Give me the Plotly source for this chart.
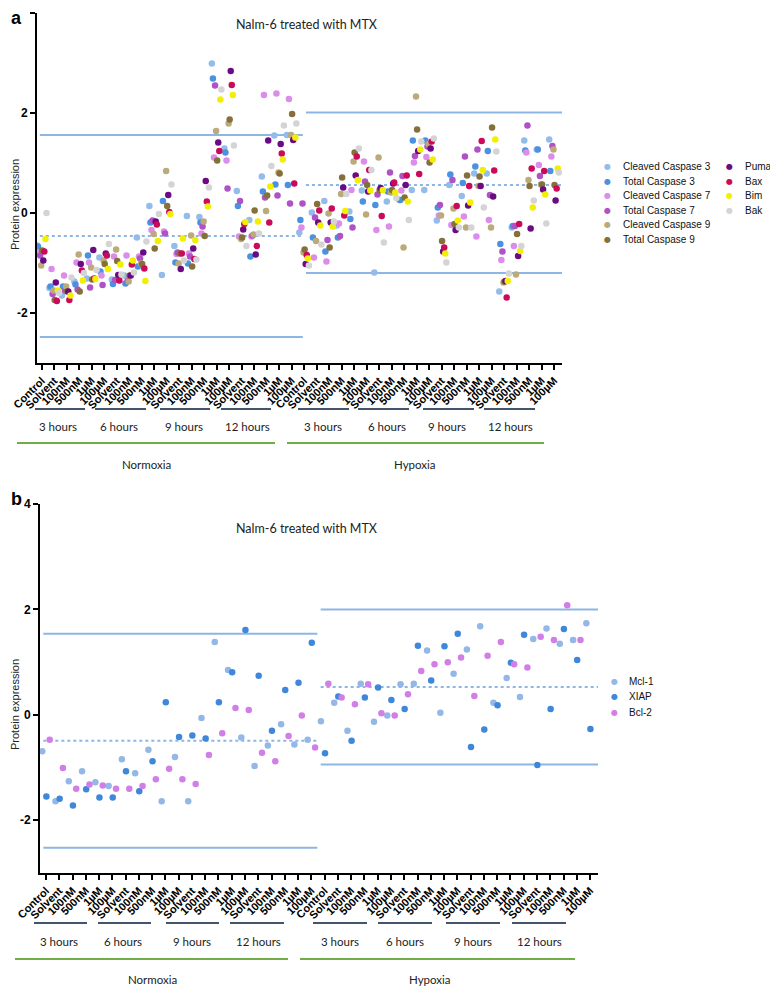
import plotly.graph_objects as go

W, H = 778, 988
OFF = 8  # page body margin offset of the rendered figure
FW, FH = W - OFF, H - OFF

# ---------------- category / tick labels ----------------
conditions = ["Normoxia", "Hypoxia"]
hour_labels = ["3 hours", "6 hours", "9 hours", "12 hours"]
doses = ["Solvent", "100nM", "500nM", "1µM", "100µM"]
tick_labels = []
for _c in conditions:
    tick_labels += ["Control"] + doses * 4

# ---------------- panel a data ----------------
names_a = ["Cleaved Caspase 3", "Total Caspase 3", "Cleaved Caspase 7", "Total Caspase 7",
           "Cleaved Caspase 9", "Total Caspase 9", "Puma", "Bax", "Bim", "Bak"]
colors_a = ["#93BCEB", "#4A92E0", "#DC8CEB", "#AE52C6", "#BBAA7A",
            "#86703A", "#6B0A82", "#CC0A5A", "#F2F000", "#D4D4D4"]

cleaved_casp3 = [-0.65, -1.50, -1.65, -1.37, -1.31, -0.89, -1.33, -1.25, -0.49, 0.14, -1.24, -0.66, -0.06, -0.08, 2.99, 1.29, 0.44, -0.14, 0.73, 1.55, 1.56,
                 -0.39, 0.01, 0.24, -0.25, 0.03, 0.45, -1.19, 0.23, 0.26, 0.46, 0.46, -0.15, 0.56, 0.34, 0.79, 0.79, -1.57, -0.29, 1.45, 1.27, 1.47]
total_casp3 = [-0.67, -1.47, -1.47, -1.43, -0.85, -1.17, -1.42, -1.41, -1.07, -0.19, 0.24, -0.99, -1.01, -0.19, 2.69, 1.21, 0.14, -0.87, 0.43, 0.57, 0.56,
               -0.14, -0.49, -0.77, -0.49, -0.12, 0.23, 0.16, 0.43, 0.26, 1.45, 1.45, 0.11, 0.77, 0.60, 0.93, 1.24, -0.62, -0.26, 1.25, 1.27, 0.84]
cleaved_casp7 = [-0.80, -1.12, -1.25, -0.99, -0.99, -1.25, -0.87, -0.85, -0.87, -0.34, -0.37, -0.82, -0.81, -0.41, 1.11, 1.05, -0.47, -0.47, 2.36, 2.39, 2.28,
                 -0.29, -0.89, -0.97, -0.21, 0.46, 1.03, -0.34, -0.27, 0.45, 1.01, 1.12, -0.05, -0.24, -0.07, -0.47, -0.14, -0.94, -0.66, 1.21, 0.96, 1.13]
total_casp7 = [-0.85, -1.62, -1.55, -1.53, -1.49, -1.44, -1.34, -1.36, -0.91, -0.15, -0.41, -0.79, -0.87, -0.27, 2.55, 0.49, 0.24, -0.45, 0.31, 0.35, 0.19,
               0.19, -0.09, -0.54, -0.46, -0.29, 0.63, 0.37, 0.81, 0.74, 1.14, 1.33, 0.16, 0.66, 1.13, 1.27, 0.36, -0.77, -0.26, 1.75, 0.74, 1.34]
cleaved_casp9 = [-1.05, -1.55, -1.47, -0.83, -1.09, -0.95, -0.73, -1.37, -1.01, -0.42, 0.84, -1.01, -0.45, -0.17, 1.64, 1.79, -0.52, -0.43, 0.04, 0.81, 1.56,
                 -0.79, -0.56, -0.01, 0.38, 1.03, -0.03, 1.11, 0.41, -0.69, 2.33, 1.38, -0.05, 0.09, -0.29, 0.54, -0.29, -1.39, -1.23, 0.66, 0.57, 1.27]
total_casp9 = [-0.75, -1.74, -1.57, -1.57, -1.33, -1.02, -0.96, -1.25, -1.02, -0.71, 0.14, -0.81, -1.07, -0.46, 1.05, 1.87, -0.49, 0.05, 0.35, 0.79, 1.98,
               -0.73, 0.18, -0.69, 0.71, 1.21, 0.56, 0.46, 0.46, 0.31, 1.67, 1.01, -0.56, -0.22, 0.75, 0.73, 1.71, -1.37, -0.42, 0.54, 0.57, 0.56]
puma = [-0.95, -1.39, -1.57, -1.02, -0.74, -0.81, -1.24, -1.25, -0.79, -0.17, 0.36, -1.12, -0.71, 0.64, 1.41, 2.84, -0.33, -0.83, 1.45, 1.38, 1.46,
        -1.02, -0.19, -0.19, 0.51, 0.75, 0.43, 0.50, 0.59, 0.56, 1.24, 1.29, -0.77, -0.34, 0.15, 0.54, 0.33, -1.36, -0.86, -0.31, 0.47, 0.25]
bax = [-0.77, -1.76, -1.74, -1.15, -1.31, -0.85, -1.35, -1.03, -1.11, -0.23, 0.02, -0.81, -0.92, 0.23, 1.24, 2.56, -0.22, -0.66, -0.19, 1.19, 0.59,
       -0.84, 0.05, 0.09, -0.05, 1.13, 0.86, -0.06, 0.61, 0.75, 0.78, 1.43, -0.69, 0.14, 0.54, 1.44, 0.85, -1.69, -0.22, 0.89, 0.84, 0.49]
bim = [-0.52, -1.55, -1.65, -1.35, -1.32, -1.12, -1.03, -0.95, -1.36, -0.56, -0.02, -0.51, -0.54, 0.13, 2.27, 2.36, -0.18, -0.17, 0.53, 1.07, 1.51,
       -0.91, -0.25, -0.27, 0.04, 0.66, 0.45, 0.46, 0.41, 0.23, 1.27, 1.07, -0.81, -0.15, 0.21, 0.86, 1.47, -1.36, -0.76, 0.11, 0.37, 0.89]
bak = [0.00, -1.60, -1.29, -1.20, -1.14, -0.62, -1.23, -1.19, -0.57, -0.02, 0.57, -0.95, -0.93, 0.51, 2.47, 1.35, -0.66, -0.41, 0.94, 1.75, 1.79,
       -1.05, -0.63, -0.17, 0.38, 1.29, 0.86, -0.59, 0.30, -0.14, 1.43, 1.49, -0.99, -0.29, -0.29, 0.11, 1.23, -1.21, -0.66, 0.25, -0.21, 0.81]
series_a = [cleaved_casp3, total_casp3, cleaved_casp7, total_casp7, cleaved_casp9,
            total_casp9, puma, bax, bim, bak]

# reference lines (upper, mean, lower) per condition
lines_a_norm = [1.56, -0.46, -2.48]
lines_a_hyp = [2.01, 0.56, -1.20]

# ---------------- panel b data ----------------
names_b = ["Mcl-1", "XIAP", "Bcl-2"]
colors_b = ["#93B7E6", "#3F87DA", "#D17FE6"]
mcl1 = [-0.69, -1.64, -1.26, -1.07, -1.28, -1.35, -0.84, -1.11, -0.66, -1.64, -0.80, -1.64, -0.06, 1.38, 0.85, -0.43, -0.97, -0.58, -0.18, -0.56, -0.47,
        -0.12, 0.23, -0.30, 0.59, -0.13, -0.01, 0.58, 0.59, 1.22, 0.04, 0.78, 1.24, 1.68, 0.23, 0.70, 0.34, 1.44, 1.64, 1.35, 1.42, 1.74]
xiap = [-1.55, -1.59, -1.72, -1.41, -1.57, -1.57, -1.07, -1.45, -0.88, 0.24, -0.42, -0.39, -0.45, 0.24, 0.81, 1.61, 0.74, -0.30, 0.47, 0.61, 1.37,
        -0.73, 0.35, -0.49, 0.33, 0.52, 0.28, 0.11, 1.31, 0.65, 1.30, 1.54, -0.61, -0.28, 0.18, 0.99, 1.52, -0.95, 0.11, 1.63, 1.04, -0.27]
bcl2 = [-0.47, -1.01, -1.40, -1.32, -1.34, -1.40, -1.40, -1.35, -1.22, -1.02, -1.22, -1.31, -0.76, -0.35, 0.13, 0.09, -0.72, -0.88, -0.40, -0.01, -0.62,
        0.59, 0.33, 0.20, 0.58, 0.03, -0.01, 0.39, 0.83, 0.96, 1.00, 1.09, 0.36, 1.12, 1.38, 0.96, 0.90, 1.48, 1.42, 2.08, 1.42, None]
series_b = [mcl1, xiap, bcl2]

lines_b_norm = [1.54, -0.49, -2.52]
lines_b_hyp = [2.00, 0.53, -0.94]

# ---------------- helpers (page pixel -> paper) ----------------
def px(x):
    return (x - OFF) / FW


def py(y):
    return 1 - (y - OFF) / FH


fig = go.Figure()

n_a = len(series_a)
for i, (name, color, vals) in enumerate(zip(names_a, colors_a, series_a)):
    xs = [k + (i - (n_a - 1) / 2) * 0.085 for k in range(len(vals))]
    fig.add_trace(go.Scatter(x=xs, y=vals, mode="markers", name=name,
                             marker=dict(color=color, size=6.5, line=dict(width=0)),
                             xaxis="x", yaxis="y", showlegend=False))

offs_b = [-0.28, 0.03, 0.28]
for i, (name, color, vals) in enumerate(zip(names_b, colors_b, series_b)):
    xs = [k + offs_b[i] for k in range(len(vals))]
    fig.add_trace(go.Scatter(x=xs, y=vals, mode="markers", name=name,
                             marker=dict(color=color, size=6.5, line=dict(width=0)),
                             xaxis="x2", yaxis="y2", showlegend=False))

line_col = "#8EB6E4"
shapes = []


def ref_lines(xref, yref, vals, x0, x1):
    for j, v in enumerate(vals):
        shapes.append(dict(type="line", xref=xref, yref=yref, x0=x0, x1=x1, y0=v, y1=v,
                           line=dict(color=line_col, width=2, dash="dot" if j == 1 else "solid"),
                           layer="below"))


ref_lines("x", "y", lines_a_norm, -0.15, 20.9)
ref_lines("x", "y", lines_a_hyp, 21.15, 41.64)
ref_lines("x2", "y2", lines_b_norm, -0.2, 20.45)
ref_lines("x2", "y2", lines_b_hyp, 20.7, 41.6)

annotations = []


def text(x, y, s, size=12, family="Lato", color="#222", angle=0, xanchor="center", bold=False):
    annotations.append(dict(x=px(x), y=py(y), xref="paper", yref="paper", text=("<b>%s</b>" % s) if bold else s,
                            showarrow=False, xanchor=xanchor, yanchor="middle", textangle=angle,
                            font=dict(size=size, family=family, color=color)))


def hline_px(x0, x1, y, color, width=2):
    shapes.append(dict(type="line", xref="paper", yref="paper", x0=px(x0), x1=px(x1), y0=py(y), y1=py(y),
                       line=dict(color=color, width=width)))


# group annotations panel a
hour_segs_a = [(35, 85), (95, 146), (160, 210), (221, 271), (298, 349), (358, 409), (423, 474), (484, 535)]
hour_txt_a = [58, 119, 184, 247, 323, 387, 447, 510]
for j, (x0, x1) in enumerate(hour_segs_a):
    hline_px(x0, x1, 409, "#44546A")
    text(hour_txt_a[j], 426, hour_labels[j % 4], size=11.5)
hline_px(17, 275, 443, "#70AD47")
hline_px(287, 544, 443, "#70AD47")
text(146, 464, conditions[0], size=11.5)
text(415, 464, conditions[1], size=11.5)

# group annotations panel b
hour_segs_b = [(34, 87), (98, 151), (166, 219), (230, 284), (313, 367), (378, 432), (446, 500), (512, 566)]
hour_txt_b = [59, 123, 192, 258, 340, 405, 473, 539]
for j, (x0, x1) in enumerate(hour_segs_b):
    hline_px(x0, x1, 923, "#44546A")
    text(hour_txt_b[j], 941, hour_labels[j % 4], size=11.5)
hline_px(15, 288, 959, "#70AD47")
hline_px(300, 575, 959, "#70AD47")
text(152, 979, conditions[0], size=11.5)
text(430, 979, conditions[1], size=11.5)

# titles, panel letters, y titles
text(306, 25, "Nalm-6 treated with MTX", size=12.5)
text(306, 528, "Nalm-6 treated with MTX", size=12.5)
text(8.5, 18, "a", size=18, family="Liberation Sans", color="black", bold=True, xanchor="left")
text(8.5, 499, "b", size=18, family="Liberation Sans", color="black", bold=True, xanchor="left")
text(15, 205, "Protein expression", size=11, family="Liberation Sans", angle=-90)
text(15, 705, "Protein expression", size=11, family="Liberation Sans", angle=-90)

# legends
for i, (name, color) in enumerate(zip(names_a, colors_a)):
    col = 0 if i < 6 else 1
    row = i if i < 6 else i - 6
    mx = 607.7 if col == 0 else 729.5
    yy = 166.7 + 14.5 * row
    text(mx, yy, "●", size=8, family="DejaVu Sans", color=color)
    text(mx + 13, yy, name, size=10, family="Liberation Sans", color="#111", xanchor="left")
for i, (name, color) in enumerate(zip(names_b, colors_b)):
    yy = 681 + 15.5 * i
    text(614, yy, "●", size=8, family="DejaVu Sans", color=color)
    text(627, yy, name, size=10, family="Liberation Sans", color="#111", xanchor="left")

bold_ticks = ["<b>%s</b>" % t for t in tick_labels]
common_x = dict(tickvals=list(range(len(tick_labels))), ticktext=bold_ticks, tickangle=-45,
                ticks="outside", ticklen=5, tickwidth=1.5, tickcolor="black", automargin=False,
                showline=True, linewidth=2, linecolor="black", showgrid=False, zeroline=False,
                tickfont=dict(size=11, family="Liberation Sans", color="black"))
common_y = dict(range=[-3, 4], tickvals=[-2, 0, 2, 4], ticktext=["<b>-2</b>", "<b>0</b>", "<b>2</b>", "<b>4</b>"],
                ticks="outside", ticklen=5, tickwidth=2, tickcolor="black", automargin=False,
                showline=True, linewidth=2, linecolor="black", showgrid=False, zeroline=False,
                tickfont=dict(size=12, family="Liberation Sans", color="black"))

fig.update_layout(
    template="none",
    width=FW, height=FH, margin=dict(l=0, r=0, t=0, b=0, pad=0), autosize=False,
    paper_bgcolor="white", plot_bgcolor="white",
    xaxis=dict(domain=[px(37), px(562)], range=[-0.376, 41.64], anchor="y", **common_x),
    yaxis=dict(domain=[py(363), py(13)], anchor="x", **common_y),
    xaxis2=dict(domain=[px(40), px(598)], range=[-0.45, 41.6], anchor="y2", **common_x),
    yaxis2=dict(domain=[py(873), py(504)], anchor="x2", **common_y),
    shapes=shapes, annotations=annotations, showlegend=False,
)

fig.write_html("out.html")
